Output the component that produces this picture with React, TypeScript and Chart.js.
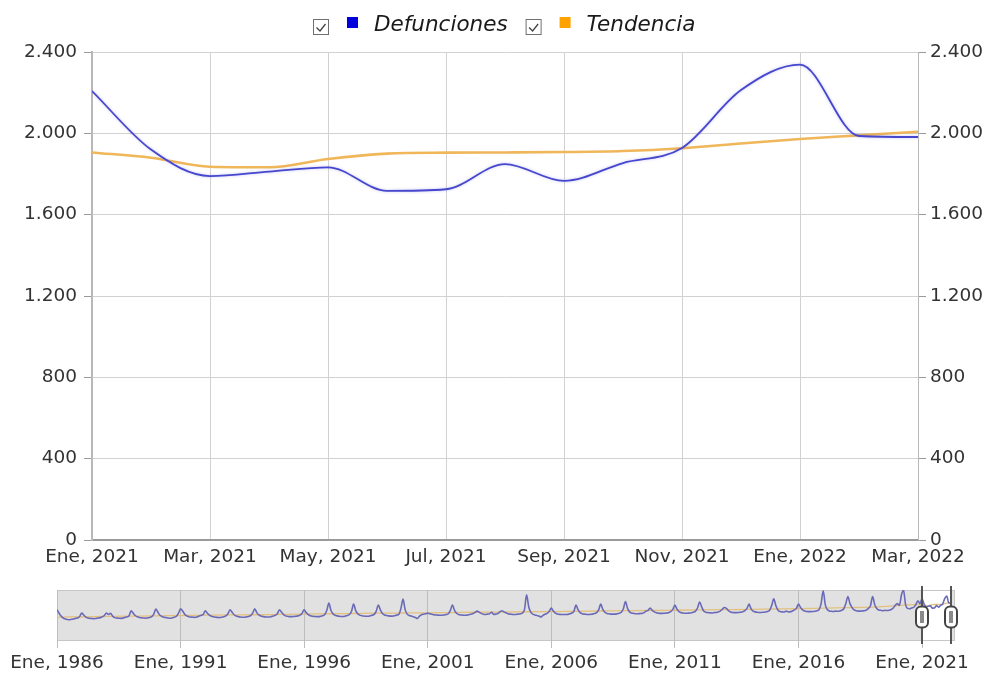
import React, { useEffect, useRef } from 'react';
import { Chart, registerables } from 'chart.js';

Chart.register(...registerables);

// ---------- Main chart data (monthly, Ene 2021 - Mar 2022) ----------
const monthLabels = [
  'Ene, 2021', 'Feb, 2021', 'Mar, 2021', 'Abr, 2021', 'May, 2021', 'Jun, 2021', 'Jul, 2021',
  'Ago, 2021', 'Sep, 2021', 'Oct, 2021', 'Nov, 2021', 'Dic, 2021', 'Ene, 2022', 'Feb, 2022', 'Mar, 2022',
];
const defunciones = [2208, 1920, 1790, 1812, 1833, 1717, 1725, 1849, 1766, 1854, 1928, 2213, 2338, 1987, 1982];
const tendencia = [1906, 1880, 1836, 1833, 1874, 1900, 1905, 1906, 1908, 1913, 1927, 1950, 1972, 1990, 2008];
const yTickStep = 400;
const yMax = 2400;

// ---------- Navigator data (monthly, Ene 1986 - Dic 2020, then main data) ----------
const navStartYear = 1986;
const navMonthlyByYear = [
  [1630, 1450, 1300, 1200, 1150, 1120, 1110, 1130, 1150, 1180, 1200, 1280], // 1986
  [1455, 1350, 1250, 1200, 1180, 1170, 1160, 1180, 1200, 1220, 1260, 1330], // 1987
  [1455, 1380, 1440, 1300, 1220, 1200, 1190, 1180, 1200, 1230, 1260, 1320], // 1988
  [1576, 1450, 1330, 1260, 1230, 1210, 1200, 1190, 1210, 1230, 1270, 1400], // 1989
  [1664, 1500, 1340, 1280, 1240, 1220, 1200, 1190, 1210, 1240, 1290, 1450], // 1990
  [1681, 1560, 1400, 1310, 1270, 1250, 1240, 1230, 1250, 1300, 1340, 1380], // 1991
  [1576, 1450, 1350, 1290, 1260, 1240, 1230, 1220, 1240, 1270, 1310, 1420], // 1992
  [1630, 1500, 1370, 1300, 1270, 1250, 1240, 1240, 1260, 1280, 1320, 1450], // 1993
  [1681, 1480, 1360, 1300, 1280, 1260, 1250, 1250, 1270, 1300, 1340, 1420], // 1994
  [1630, 1500, 1380, 1310, 1290, 1270, 1270, 1280, 1290, 1310, 1350, 1450], // 1995
  [1630, 1480, 1380, 1320, 1290, 1280, 1270, 1270, 1290, 1320, 1380, 1600], // 1996
  [1976, 1600, 1420, 1340, 1310, 1290, 1280, 1280, 1300, 1330, 1380, 1550], // 1997
  [1924, 1600, 1420, 1350, 1320, 1300, 1290, 1290, 1310, 1340, 1390, 1560], // 1998
  [1870, 1620, 1430, 1360, 1330, 1310, 1300, 1300, 1320, 1350, 1400, 1700], // 1999
  [2184, 1650, 1400, 1330, 1300, 1260, 1220, 1180, 1300, 1370, 1400, 1420], // 2000
  [1455, 1420, 1400, 1370, 1360, 1350, 1340, 1340, 1360, 1380, 1420, 1600], // 2001
  [1870, 1600, 1450, 1380, 1360, 1350, 1340, 1350, 1370, 1400, 1430, 1500], // 2002
  [1560, 1500, 1440, 1400, 1380, 1400, 1420, 1500, 1390, 1400, 1430, 1520], // 2003
  [1580, 1520, 1470, 1420, 1400, 1390, 1380, 1390, 1400, 1420, 1460, 1650], // 2004
  [2408, 1800, 1500, 1400, 1360, 1330, 1300, 1250, 1340, 1400, 1440, 1550], // 2005
  [1716, 1560, 1450, 1410, 1390, 1380, 1380, 1380, 1390, 1420, 1460, 1560], // 2006
  [1870, 1620, 1480, 1420, 1400, 1390, 1380, 1390, 1400, 1430, 1480, 1620], // 2007
  [1924, 1650, 1500, 1440, 1420, 1400, 1400, 1400, 1420, 1450, 1500, 1680], // 2008
  [2063, 1700, 1520, 1460, 1440, 1420, 1420, 1430, 1440, 1480, 1560, 1600], // 2009
  [1716, 1600, 1520, 1470, 1450, 1440, 1440, 1450, 1460, 1480, 1530, 1650], // 2010
  [1870, 1660, 1530, 1480, 1460, 1450, 1450, 1460, 1470, 1500, 1560, 1720], // 2011
  [2028, 1780, 1560, 1500, 1480, 1470, 1460, 1480, 1490, 1510, 1560, 1650], // 2012
  [1750, 1700, 1580, 1510, 1490, 1480, 1480, 1490, 1500, 1530, 1580, 1700], // 2013
  [1924, 1680, 1560, 1520, 1500, 1490, 1490, 1500, 1510, 1540, 1600, 1850], // 2014
  [2200, 1850, 1620, 1540, 1520, 1510, 1560, 1530, 1520, 1560, 1620, 1700], // 2015
  [1924, 1750, 1620, 1560, 1540, 1530, 1530, 1540, 1550, 1580, 1640, 1950], // 2016
  [2616, 1900, 1640, 1570, 1550, 1540, 1560, 1550, 1560, 1600, 1680, 1950], // 2017
  [2324, 1950, 1750, 1620, 1580, 1560, 1560, 1570, 1580, 1620, 1700, 1850], // 2018
  [2324, 1900, 1700, 1620, 1600, 1580, 1600, 1590, 1600, 1640, 1720, 1860], // 2019
  [1950, 1850, 2400, 2650, 1900, 1700, 1680, 1720, 1760, 1900, 2100, 1950], // 2020
];
const navTrendYearly = [
  1250, 1265, 1280, 1295, 1310, 1330, 1345, 1360, 1370, 1385, 1400, 1420, 1435, 1450, 1460, 1470, 1485, 1500,
  1510, 1525, 1535, 1550, 1565, 1580, 1590, 1605, 1620, 1635, 1650, 1670, 1690, 1715, 1740, 1765, 1850,
]; // Ene of each year 1986-2020
const navTickLabels = ['Ene, 1986', 'Ene, 1991', 'Ene, 1996', 'Ene, 2001', 'Ene, 2006', 'Ene, 2011', 'Ene, 2016', 'Ene, 2021'];
const navSelection = [420, 434]; // month index range shown in main chart
const navXMax = 436;
const navYMax = 2660;

const FONT = '"DejaVu Sans", Verdana, sans-serif';
const fmt = (v: number) => String(v).replace(/\B(?=(\d{3})+(?!\d))/g, '.');

const legendItems = [
  { text: 'Defunciones', color: '#0000dd' },
  { text: 'Tendencia', color: '#ffa200' },
];

const legendPlugin = {
  id: 'customLegend',
  afterDraw(chart: any) {
    const ctx = chart.ctx as CanvasRenderingContext2D;
    ctx.save();
    ctx.font = `italic 21.5px ${FONT}`;
    const widths = legendItems.map((it) => ctx.measureText(it.text).width);
    const box = 15, gap1 = 19, sq = 11, gap2 = 16, gapItem = 18;
    let total = 0;
    legendItems.forEach((_, i) => { total += box + gap1 + sq + gap2 + widths[i]; });
    total += gapItem * (legendItems.length - 1);
    let x = Math.round(504 - total / 2);
    legendItems.forEach((it, i) => {
      ctx.fillStyle = '#ffffff';
      ctx.fillRect(x + 0.5, 19.5, box, box);
      ctx.strokeStyle = '#707070';
      ctx.lineWidth = 1;
      ctx.strokeRect(x + 0.5, 19.5, box, box);
      ctx.strokeStyle = '#444';
      ctx.lineWidth = 1.3;
      ctx.beginPath();
      ctx.moveTo(x + 3.5, 27.5);
      ctx.lineTo(x + 7, 31);
      ctx.lineTo(x + 12.5, 24);
      ctx.stroke();
      x += box + gap1;
      ctx.fillStyle = it.color;
      ctx.fillRect(x, 17, sq, sq);
      x += sq + gap2;
      ctx.fillStyle = '#1a1a1a';
      ctx.textBaseline = 'alphabetic';
      ctx.textAlign = 'left';
      ctx.fillText(it.text, x, 31);
      x += widths[i] + gapItem;
    });
    ctx.restore();
  },
};

const haloPlugin = {
  id: 'lineHalo',
  beforeDatasetDraw(chart: any, args: any) {
    if (args.index === 0) {
      chart.ctx.save();
      chart.ctx.shadowColor = 'rgba(90,90,210,0.35)';
      chart.ctx.shadowBlur = 3;
    }
  },
  afterDatasetDraw(chart: any, args: any) {
    if (args.index === 0) chart.ctx.restore();
  },
};

const navPlugin = {
  id: 'navigatorDecor',
  beforeDraw(chart: any) {
    const { ctx, chartArea } = chart;
    const xs = chart.scales.x;
    ctx.save();
    ctx.fillStyle = '#e1e1e1';
    ctx.fillRect(chartArea.left, chartArea.top, chartArea.right - chartArea.left, chartArea.bottom - chartArea.top);
    const sx0 = xs.getPixelForValue(navSelection[0]);
    const sx1 = xs.getPixelForValue(navSelection[1]);
    ctx.fillStyle = '#ffffff';
    ctx.fillRect(sx0, chartArea.top, sx1 - sx0, chartArea.bottom - chartArea.top);
    ctx.strokeStyle = '#c6c6c6';
    ctx.lineWidth = 1;
    ctx.strokeRect(chartArea.left + 0.5, chartArea.top + 0.5, chartArea.right - chartArea.left - 1, chartArea.bottom - chartArea.top - 1);
    ctx.restore();
  },
  afterDraw(chart: any) {
    const { ctx, chartArea } = chart;
    const xs = chart.scales.x;
    ctx.save();
    navSelection.forEach((v) => {
      const px = Math.round(xs.getPixelForValue(v));
      ctx.strokeStyle = '#555';
      ctx.lineWidth = 2;
      ctx.beginPath();
      ctx.moveTo(px, chartArea.top - 4);
      ctx.lineTo(px, chartArea.bottom + 3);
      ctx.stroke();
      const w = 12, h = 21;
      const cy = chartArea.top + 27;
      ctx.beginPath();
      ctx.roundRect(px - w / 2, cy - h / 2, w, h, 5);
      ctx.fillStyle = '#ffffff';
      ctx.fill();
      ctx.lineWidth = 2;
      ctx.strokeStyle = '#444';
      ctx.stroke();
      ctx.fillStyle = '#8a8a8a';
      ctx.fillRect(px - 2, cy - 6, 4, 12);
    });
    ctx.restore();
  },
};

export default function App() {
  const mainRef = useRef<HTMLCanvasElement>(null);
  const navRef = useRef<HTMLCanvasElement>(null);

  useEffect(() => {
    const tickFont = { family: FONT, size: 18.5 };
    const tickColor = '#333333';

    const main = new Chart(mainRef.current as HTMLCanvasElement, {
      type: 'line',
      data: {
        datasets: [
          {
            label: 'Defunciones',
            data: defunciones.map((v, i) => ({ x: i, y: v })),
            borderColor: '#4646cf',
            borderWidth: 1.8,
            pointRadius: 0,
            cubicInterpolationMode: 'monotone',
            fill: false,
          },
          {
            label: 'Tendencia',
            data: tendencia.map((v, i) => ({ x: i, y: v })),
            borderColor: '#efb65a',
            borderWidth: 2.6,
            pointRadius: 0,
            cubicInterpolationMode: 'monotone',
            fill: false,
          },
        ],
      },
      options: {
        animation: false,
        responsive: false,
        events: [],
        layout: { padding: { top: 52, left: 0, right: 0, bottom: 0 } },
        plugins: { legend: { display: false }, tooltip: { enabled: false }, title: { display: false } },
        scales: {
          x: {
            type: 'linear',
            min: 0,
            max: monthLabels.length - 1,
            ticks: {
              stepSize: 2,
              autoSkip: false,
              maxRotation: 0,
              padding: 6,
              font: tickFont,
              color: tickColor,
              callback: (v: any) => monthLabels[Number(v)] ?? '',
            },
            grid: { color: '#d2d2d2', drawTicks: false },
            border: { color: '#9a9a9a', width: 2 },
            afterFit: (s: any) => { s.height = 40; },
          },
          y: {
            position: 'left',
            min: 0,
            max: yMax,
            ticks: { stepSize: yTickStep, padding: 7, font: tickFont, color: tickColor, callback: (v: any) => fmt(Number(v)) },
            grid: { color: '#d2d2d2', tickColor: '#9a9a9a', tickLength: 8 },
            border: { color: '#b8b8b8', width: 2 },
            afterFit: (s: any) => { s.width = 92; },
          },
          y2: {
            position: 'right',
            min: 0,
            max: yMax,
            ticks: { stepSize: yTickStep, padding: 4, font: tickFont, color: tickColor, callback: (v: any) => fmt(Number(v)) },
            grid: { drawOnChartArea: false, tickColor: '#9a9a9a', tickLength: 8 },
            border: { color: '#b8b8b8', width: 1 },
            afterFit: (s: any) => { s.width = 69; },
          },
        },
      },
      plugins: [legendPlugin, haloPlugin],
    } as any);

    const navDef: { x: number; y: number }[] = [];
    navMonthlyByYear.forEach((row, yi) => row.forEach((v, m) => navDef.push({ x: yi * 12 + m, y: v })));
    const offset = navMonthlyByYear.length * 12;
    defunciones.forEach((v, i) => navDef.push({ x: offset + i, y: v }));
    const navTrend: { x: number; y: number }[] = navTrendYearly.map((v, i) => ({ x: i * 12, y: v }));
    tendencia.forEach((v, i) => navTrend.push({ x: offset + i, y: v }));
    const navTickValues = navTickLabels.map((l) => (Number(l.slice(-4)) - navStartYear) * 12);

    const nav = new Chart(navRef.current as HTMLCanvasElement, {
      type: 'line',
      data: {
        datasets: [
          { data: navDef, borderColor: '#6a6ab8', borderWidth: 1.6, pointRadius: 0, cubicInterpolationMode: 'monotone', fill: false },
          { data: navTrend, borderColor: '#e3c07e', borderWidth: 1.3, pointRadius: 0, cubicInterpolationMode: 'monotone', fill: false },
        ],
      },
      options: {
        animation: false,
        responsive: false,
        events: [],
        layout: { padding: { left: 57, right: 32, top: 10, bottom: 0 } },
        plugins: { legend: { display: false }, tooltip: { enabled: false } },
        scales: {
          x: {
            type: 'linear',
            min: 0,
            max: navXMax,
            afterBuildTicks: (s: any) => { s.ticks = navTickValues.map((v) => ({ value: v })); },
            ticks: {
              autoSkip: false,
              maxRotation: 0,
              padding: 4,
              font: tickFont,
              color: tickColor,
              callback: (v: any) => navTickLabels[navTickValues.indexOf(Number(v))] ?? '',
            },
            grid: { color: '#bdbdbd', tickColor: '#bdbdbd', tickLength: 7 },
            border: { display: false },
            afterFit: (s: any) => { s.height = 40; },
          },
          y: { display: false, min: 0, max: navYMax },
        },
      },
      plugins: [navPlugin],
    } as any);

    return () => {
      main.destroy();
      nav.destroy();
    };
  }, []);

  return (
    <div style={{ position: 'fixed', left: 0, top: 0, width: 987, height: 681, background: '#ffffff', overflow: 'hidden' }}>
      <canvas ref={mainRef} width={987} height={580} style={{ position: 'absolute', left: 0, top: 0, width: 987, height: 580 }} />
      <canvas ref={navRef} width={987} height={101} style={{ position: 'absolute', left: 0, top: 580, width: 987, height: 101 }} />
    </div>
  );
}
